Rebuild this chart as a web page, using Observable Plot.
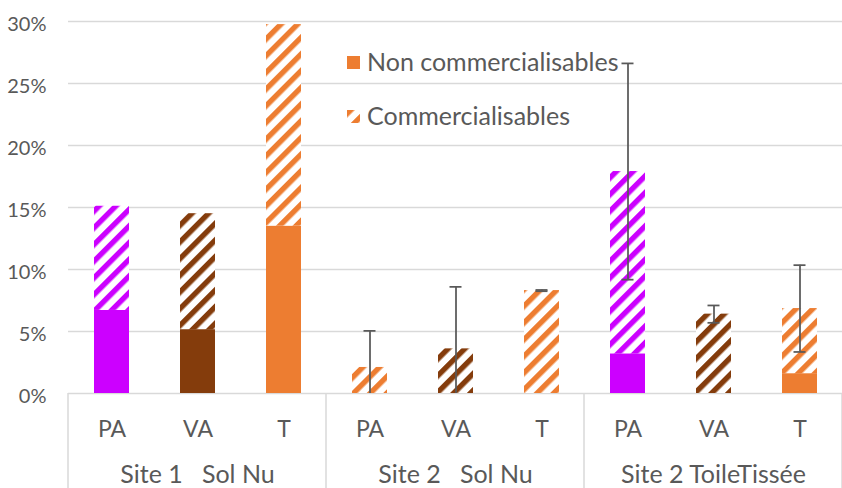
<!DOCTYPE html>
<html><head><meta charset="utf-8">
<script src="https://cdn.jsdelivr.net/npm/d3@7"></script>
<script src="https://cdn.jsdelivr.net/npm/@observablehq/plot@0.6"></script>
<style>
body{margin:0;background:#fff;}
#wrap{position:relative;width:842px;height:488px;overflow:hidden;}
#legend{position:absolute;left:0;top:0;}
</style></head>
<body>
<svg id="defs" width="0" height="0" style="position:absolute"><defs></defs></svg>
<div id="wrap"><div id="chart"></div><svg id="legend" width="842" height="488"></svg></div>
<script>
// ---- data ----
const sites = ["Site 1\u00A0\u00A0\u00A0Sol Nu", "Site 2\u00A0\u00A0\u00A0Sol Nu", "Site 2\u00A0ToileTissée"];
const cats = ["PA", "VA", "T"];
// in % (order: site1 PA,VA,T, site2 PA,VA,T, toile PA,VA,T)
const nonComm = [6.7, 5.15, 13.5, 0, 0, 0, 3.2, 0, 1.6];
const comm = [8.4, 9.35, 16.25, 2.1, 3.6, 8.3, 14.7, 6.4, 5.25];
const errHalf = [null, null, null, 2.95, 5.0, 0.05, 8.72, 0.7, 3.5];
const barColorKey = ["violet", "brun", "orange", "orange", "brun", "orange", "violet", "brun", "orange"];
const yTicks = [0, 5, 10, 15, 20, 25, 30];
const seriesNames = ["Non commercialisables", "Commercialisables"];

const palette = {violet: "#CC00FF", brun: "#843C0C", orange: "#ED7D31"};
const textColor = "#595959";
const font = "Lato, 'Open Sans', sans-serif";

// ---- stripe patterns ----
const defs = d3.select("#defs defs");
for (const k of Object.keys(palette)) {
  const p = defs.append("pattern")
    .attr("id", "stripe-" + k)
    .attr("patternUnits", "userSpaceOnUse")
    .attr("width", 11.8).attr("height", 11.8)
    .attr("patternTransform", "rotate(45)");
  p.append("rect").attr("width", 11.8).attr("height", 11.8).attr("fill", "#fff");
  p.append("rect").attr("width", 5.4).attr("height", 11.8).attr("fill", palette[k]);
}

// ---- table ----
const rows = [];
nonComm.forEach((v, i) => rows.push({site: sites[Math.floor(i / 3)], cat: cats[i % 3], value: v, fill: palette[barColorKey[i]]}));
comm.forEach((v, i) => rows.push({site: sites[Math.floor(i / 3)], cat: cats[i % 3], value: v, fill: `url(#stripe-${barColorKey[i]})`}));
const errs = [];
errHalf.forEach((e, i) => {
  if (e == null) return;
  const tot = nonComm[i] + comm[i];
  errs.push({site: sites[Math.floor(i / 3)], cat: cats[i % 3], low: tot - e, high: tot + e});
});

const chart = Plot.plot({
  width: 842,
  height: 488,
  marginLeft: 67,
  marginRight: 0,
  marginTop: 21,
  marginBottom: 95,
  style: {fontFamily: font, background: "#fff"},
  fx: {domain: sites, padding: 0, label: null},
  x: {domain: cats, paddingInner: 0.595, paddingOuter: 0.2975, label: null},
  y: {domain: [0, 30], label: null},
  color: {type: "identity"},
  marks: [
    Plot.gridY(yTicks, {stroke: "#d9d9d9", strokeOpacity: 1, strokeWidth: 1.5}),
    Plot.axisY(yTicks, {tickSize: 0, tickPadding: 22, tickFormat: d => d + "%", fontSize: 20, color: textColor, dy: 3, label: null}),
    Plot.barY(rows, {fx: "site", x: "cat", y: "value", fill: "fill"}),
    Plot.ruleX(errs, {fx: "site", x: "cat", y1: "low", y2: "high", stroke: textColor, strokeWidth: 1.75, clip: true}),
    Plot.tickY(errs, {fx: "site", x: "cat", y: "high", insetLeft: 11.5, insetRight: 11.5, stroke: textColor, strokeWidth: 1.75, clip: true}),
    Plot.tickY(errs, {fx: "site", x: "cat", y: "low", insetLeft: 11.5, insetRight: 11.5, stroke: textColor, strokeWidth: 1.75, clip: true}),
    Plot.axisX({tickSize: 0, tickPadding: 27, fontSize: 23, color: textColor, label: null}),
    Plot.axisFx({anchor: "bottom", tickSize: 0, tickPadding: 72, fontSize: 25, color: textColor, label: null})
  ]
});
document.getElementById("chart").append(chart);

// group separators in the category area, placed with the fx scale
const fx = chart.scale("fx");
const y = chart.scale("y");
const edges = sites.map(s => fx.apply(s));
edges.push(fx.apply(sites[sites.length - 1]) + fx.bandwidth);
d3.select(chart).append("g")
  .attr("stroke", "#d9d9d9").attr("stroke-width", 1.5)
  .selectAll("line").data(edges).join("line")
  .attr("x1", d => d).attr("x2", d => d)
  .attr("y1", y.apply(0)).attr("y2", 488);

// legend
const lg = d3.select("#legend").style("font-family", font);
const items = [
  {name: seriesNames[0], fill: palette.orange, y: 56},
  {name: seriesNames[1], fill: "url(#stripe-orange)", y: 110}
];
const gi = lg.selectAll("g").data(items).join("g").attr("transform", d => `translate(347,${d.y})`);
gi.append("rect").attr("width", 13).attr("height", 13).attr("fill", d => d.fill);
gi.append("text").attr("x", 20).attr("y", 15).attr("font-size", 25).attr("fill", textColor).text(d => d.name);
</script>
</body></html>
